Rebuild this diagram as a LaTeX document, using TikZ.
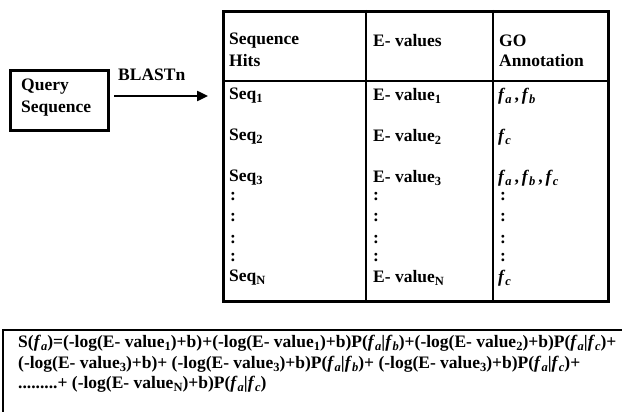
\documentclass[tikz,border=0pt]{standalone}
\usepackage{fontspec}
\setmainfont{Liberation Serif}
\usetikzlibrary{arrows.meta}
% lowered subscript, as set in the word-processor original
\newcommand\lo[1]{\raisebox{-0.35ex}{\fontsize{12.5}{12.5}\selectfont #1}}
\newcommand\fn[1]{\textit{f}\lo{\textit{#1}}}
\tikzset{
  frame/.style={draw=black, line width=2.8pt, inner sep=0pt},
  txt/.style={font=\fontsize{17.5}{20}\selectfont\bfseries, inner sep=0pt, anchor=west},
  dotcol/.style={font=\fontsize{17.5}{20}\selectfont\bfseries, inner sep=0pt, anchor=west},
}
\begin{document}
\begin{tikzpicture}[x=1pt, y=-1pt]
\useasboundingbox (0,0) rectangle (622,412);
\fill[white] (0,0) rectangle (622,412);

% query box
\node[frame, minimum width=98pt, minimum height=60pt, anchor=north west] (query) at (9,69) {};
\node[txt] (qt1) at (21,87) {Query};
\node[txt] (qt2) at (21,109) {Sequence};

% BLASTn arrow
\coordinate (arrS) at (114,96);
\coordinate (arrE) at (208,96);
\draw[line width=2.4pt, -{Triangle[length=11pt,width=10pt]}] (arrS) -- (arrE);
\node[txt] (blast) at (118,75) {BLASTn};

% hit table
\node[frame, minimum width=385pt, minimum height=290pt, anchor=north west] (tbl) at (222,10) {};
\draw[line width=2.8pt] (tbl.west |- 0,81) -- (tbl.east |- 0,81);
\draw[line width=2.8pt] (366,0 |- tbl.north) -- (366,0 |- tbl.south);
\draw[line width=2.8pt] (493,0 |- tbl.north) -- (493,0 |- tbl.south);

% header row
\node[txt] (h1a) at (229,41) {Sequence};
\node[txt] (h1b) at (229,61) {Hits};
\node[txt] (h2) at (373,41) {E- values};
\node[txt] (h3a) at (499,41) {GO};
\node[txt] (h3b) at (499,61) {Annotation};

% hit rows
\node[txt] (s1) at (229,96) {Seq\lo{1}};
\node[txt] (s2) at (229,137) {Seq\lo{2}};
\node[txt] (s3) at (229,178) {Seq\lo{3}};
\node[txt] (sN) at (229,278) {Seq\lo{N}};
\node[txt] (e1) at (373,96) {E- value\lo{1}};
\node[txt] (e2) at (373,137) {E- value\lo{2}};
\node[txt] (e3) at (373,178) {E- value\lo{3}};
\node[txt] (eN) at (373,278) {E- value\lo{N}};
\node[txt] (g1) at (498,96) {\fn{a}\,,\,\fn{b}};
\node[txt] (g2) at (498,137) {\fn{c}};
\node[txt] (g3) at (498,178) {\fn{a}\,,\,\fn{b}\,,\,\fn{c}};
\node[txt] (gN) at (498,278) {\fn{c}};

% ellipsis colons
\foreach \yy [count=\i] in {197,218,240,258} {
  \node[dotcol] (d1\i) at (230,\yy) {:};
  \node[dotcol] (d2\i) at (373,\yy) {:};
  \node[dotcol] (d3\i) at (500,\yy) {:};
}

% score formula box
\draw[line width=2.8pt] (640,330) -- (3,330) -- (3,430);
\node[txt] (f1) at (18,343) {S(\fn{a})=(-log(E- value\lo{1})+b)+(-log(E- value\lo{1})+b)P(\fn{a}|\fn{b})+(-log(E- value\lo{2})+b)P(\fn{a}|\fn{c})+};
\node[txt] (f2) at (18,364) {(-log(E- value\lo{3})+b)+ (-log(E- value\lo{3})+b)P(\fn{a}|\fn{b})+ (-log(E- value\lo{3})+b)P(\fn{a}|\fn{c})+};
\node[txt] (f3) at (18,384) {.........+ (-log(E- value\lo{N})+b)P(\fn{a}|\fn{c})};
\end{tikzpicture}
\end{document}
